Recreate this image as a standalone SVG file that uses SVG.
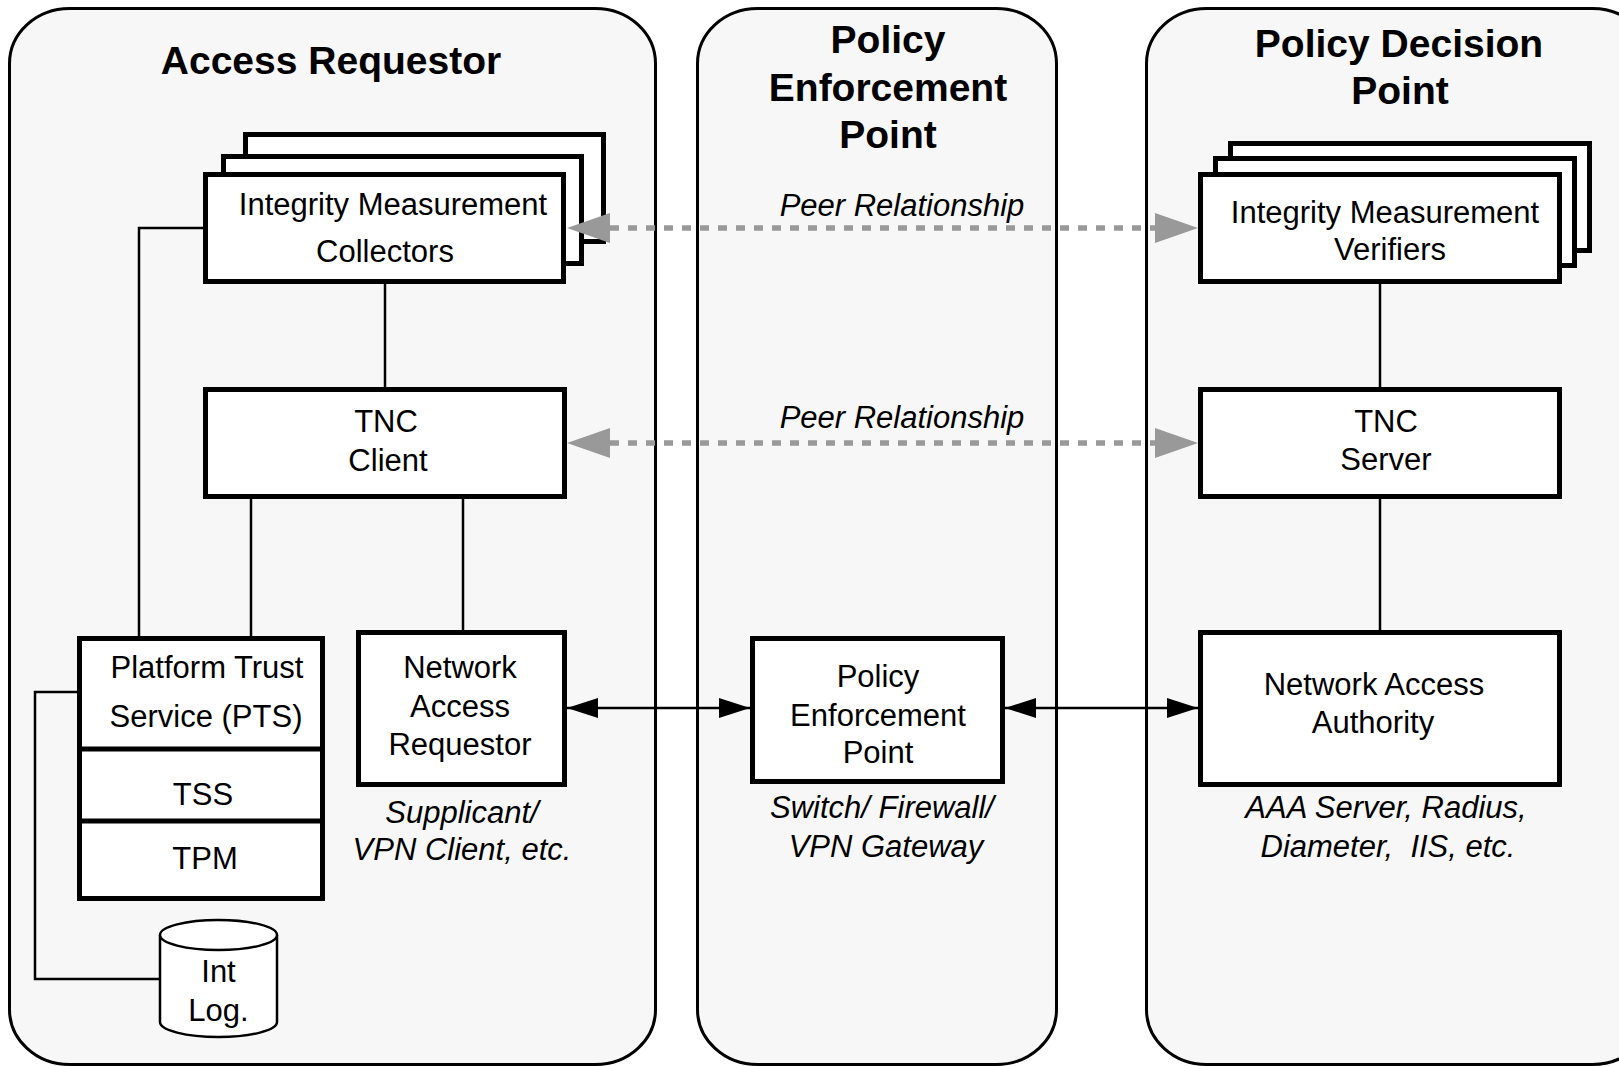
<svg xmlns="http://www.w3.org/2000/svg" width="1619" height="1066" viewBox="0 0 1619 1066">
<style>
.panel{fill:#f7f7f7;stroke:#000;stroke-width:3}
.box{fill:#fff;stroke:#000;stroke-width:5}
.cyl{fill:#fff;stroke:#000;stroke-width:2.5}
.ln{fill:none;stroke:#000;stroke-width:2.5}
.peer{fill:none;stroke:#999;stroke-width:5.5;stroke-dasharray:9 9}
text{font-family:"Liberation Sans",Arial,sans-serif;font-size:31px;text-anchor:middle;fill:#000}
.ttl{font-size:39px;font-weight:bold}
.it{font-style:italic}
</style>
<defs>
<marker id="ah" markerUnits="userSpaceOnUse" markerWidth="32" markerHeight="22" refX="31" refY="10" orient="auto-start-reverse" overflow="visible">
<path d="M0,0 L31,10 L0,20 Z" fill="#000"/>
</marker>
<marker id="gh" markerUnits="userSpaceOnUse" markerWidth="44" markerHeight="31" refX="0" refY="15" orient="auto-start-reverse" overflow="visible">
<path d="M0,0 L43,15 L0,30 Z" fill="#999"/>
</marker>
</defs>
<rect width="1619" height="1066" fill="#fff"/>
<g id="panel-ar">
<rect class="panel" x="9.5" y="8.5" width="646" height="1056" rx="60" ry="55"/>
<text class="ttl" x="331" y="74">Access Requestor</text>
</g>
<g id="panel-pep">
<rect class="panel" x="697.5" y="8.5" width="359" height="1056" rx="60" ry="55"/>
<text class="ttl" x="888" y="53">Policy</text>
<text class="ttl" x="888" y="101">Enforcement</text>
<text class="ttl" x="888" y="148">Point</text>
</g>
<g id="panel-pdp">
<rect class="panel" x="1146.5" y="8.5" width="506" height="1056" rx="60" ry="55"/>
<text class="ttl" x="1399" y="57">Policy Decision</text>
<text class="ttl" x="1400" y="104">Point</text>
</g>
<g id="imc">
<rect class="box" x="245.5" y="134.5" width="358" height="107"/>
<rect class="box" x="223.5" y="156.5" width="358" height="107"/>
<rect class="box" x="205.5" y="174.5" width="358" height="107"/>
<text x="393" y="215">Integrity Measurement</text>
<text x="385" y="262">Collectors</text>
</g>
<g id="imv">
<rect class="box" x="1230.5" y="143.5" width="359" height="107"/>
<rect class="box" x="1215.5" y="158.5" width="359" height="107"/>
<rect class="box" x="1200.5" y="174.5" width="359" height="107"/>
<text x="1385" y="223">Integrity Measurement</text>
<text x="1390" y="260">Verifiers</text>
</g>
<g id="tnc-client">
<rect class="box" x="205.5" y="389.5" width="359" height="107"/>
<text x="386" y="432">TNC</text>
<text x="388" y="471">Client</text>
</g>
<g id="tnc-server">
<rect class="box" x="1200.5" y="389.5" width="359" height="107"/>
<text x="1386" y="432">TNC</text>
<text x="1386" y="470">Server</text>
</g>
<g id="pts">
<rect class="box" x="79.5" y="638.5" width="243" height="260"/>
<line class="box" x1="79.5" y1="749" x2="322.5" y2="749"/>
<line class="box" x1="79.5" y1="821" x2="322.5" y2="821"/>
<text x="207" y="678">Platform Trust</text>
<text x="206" y="727">Service (PTS)</text>
<text x="203" y="805">TSS</text>
<text x="205" y="869">TPM</text>
</g>
<g id="intlog">
<path class="cyl" d="M160,935 A58.5,15 0 0 1 277,935 L277,1022 A58.5,15 0 0 1 160,1022 Z"/>
<path class="cyl" d="M160,935 A58.5,15 0 0 0 277,935"/>
<text x="218.5" y="982">Int</text>
<text x="218.5" y="1021">Log.</text>
</g>
<g id="nar">
<rect class="box" x="358.5" y="632.5" width="206" height="152"/>
<text x="460" y="678">Network</text>
<text x="460" y="717">Access</text>
<text x="460" y="755">Requestor</text>
<text class="it" x="462" y="823">Supplicant/</text>
<text class="it" x="462" y="860">VPN Client, etc.</text>
</g>
<g id="pep">
<rect class="box" x="752.5" y="638.5" width="250" height="143"/>
<text x="878" y="687">Policy</text>
<text x="878" y="726">Enforcement</text>
<text x="878" y="763">Point</text>
<text class="it" x="882" y="818">Switch/ Firewall/</text>
<text class="it" x="886" y="857">VPN Gateway</text>
</g>
<g id="naa">
<rect class="box" x="1200.5" y="632.5" width="359" height="152"/>
<text x="1374" y="695">Network Access</text>
<text x="1373" y="733">Authority</text>
<text class="it" x="1386" y="818">AAA Server, Radius,</text>
<text class="it" x="1388" y="857" xml:space="preserve">Diameter,  IIS, etc.</text>
</g>
<g id="connectors">
<line class="ln" x1="385" y1="284" x2="385" y2="387"/>
<polyline class="ln" points="203,228 139,228 139,636"/>
<line class="ln" x1="251" y1="499" x2="251" y2="636"/>
<line class="ln" x1="463" y1="499" x2="463" y2="630"/>
<polyline class="ln" points="77,692 35,692 35,979 160,979"/>
<line class="ln" x1="1380" y1="284" x2="1380" y2="387"/>
<line class="ln" x1="1380" y1="499" x2="1380" y2="630"/>
<line class="ln" x1="567" y1="708" x2="750" y2="708" marker-start="url(#ah)" marker-end="url(#ah)"/>
<line class="ln" x1="1005" y1="708" x2="1198" y2="708" marker-start="url(#ah)" marker-end="url(#ah)"/>
<line class="peer" x1="610" y1="228" x2="1155" y2="228" marker-start="url(#gh)" marker-end="url(#gh)"/>
<line class="peer" x1="610" y1="443" x2="1155" y2="443" marker-start="url(#gh)" marker-end="url(#gh)"/>
<text class="it" x="902" y="216">Peer Relationship</text>
<text class="it" x="902" y="428">Peer Relationship</text>
</g>
</svg>
